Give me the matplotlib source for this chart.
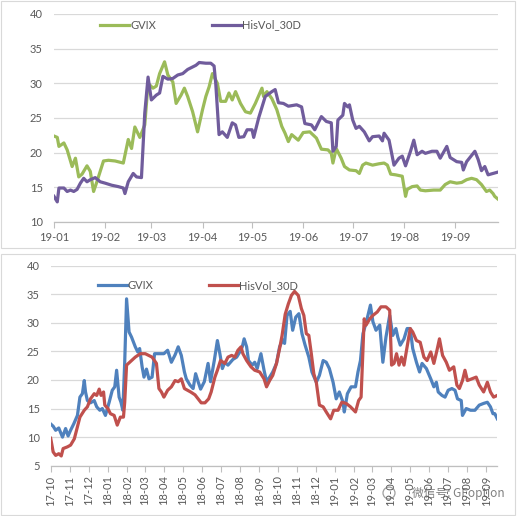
import matplotlib
matplotlib.use("Agg")
import matplotlib.pyplot as plt
import matplotlib.dates as mdates
import pandas as pd
from matplotlib.patches import Rectangle, Circle

plt.rcParams["font.family"] = ["Lato", "Noto Sans CJK SC", "DejaVu Sans"]

# ---- top chart: 2019 YTD (days since 2019-01-01) ----
top_start = "2019-01-01"
top_gvix_day = [0, 2, 3, 6, 8, 11, 13, 15, 17, 20, 22, 24, 26, 30, 33, 37, 42, 45, 47, 49,
                52, 55, 57, 60, 62, 64, 67, 69, 72, 74, 77, 79, 81, 84, 87, 90, 92, 94, 96, 99,
                101, 104, 106, 108, 110, 113, 116, 119, 122, 126, 127, 129, 132, 135, 138, 140,
                142, 144, 148, 151, 155, 159, 162, 166, 168, 169, 171, 174, 176, 179, 183, 185,
                187, 189, 193, 197, 200, 202, 204, 207, 211, 213, 214, 217, 220, 222, 225, 230,
                234, 237, 240, 244, 247, 250, 253, 256, 259, 262, 264, 266, 267, 269]
top_gvix = [22.4, 22.2, 20.9, 21.4, 20.4, 18.0, 19.2, 16.5, 16.9, 18.1, 17.3, 14.4, 15.8, 18.8,
            18.9, 18.8, 18.5, 21.9, 20.6, 23.7, 22.2, 24.0, 30.0, 29.3, 29.6, 31.4, 33.1, 31.2,
            30.2, 27.1, 28.3, 29.3, 28.1, 25.9, 23.0, 26.2, 28.1, 29.5, 31.4, 30.0, 27.4, 27.4,
            28.6, 27.6, 28.8, 27.1, 25.9, 25.7, 27.1, 29.3, 28.1, 28.8, 27.8, 26.2, 23.8, 22.8,
            21.6, 22.6, 21.8, 22.9, 23.0, 22.1, 20.5, 20.4, 19.9, 18.5, 20.6, 19.2, 18.0, 17.5,
            17.4, 17.0, 18.2, 18.5, 18.2, 18.4, 18.5, 18.2, 16.9, 16.8, 16.6, 13.7, 14.7, 15.1,
            15.2, 14.6, 14.5, 14.6, 14.6, 15.4, 15.8, 15.6, 15.7, 16.1, 16.3, 16.1, 15.4, 14.4,
            14.6, 14.1, 13.7, 13.3]
top_hv_day = [0, 2, 3, 6, 8, 10, 12, 14, 16, 18, 20, 22, 25, 28, 31, 35, 39, 42, 43, 45, 48, 50,
              53, 55, 57, 59, 62, 64, 66, 69, 72, 75, 78, 81, 86, 88, 92, 95, 97, 98, 100, 102,
              105, 108, 110, 112, 115, 117, 120, 121, 124, 128, 132, 134, 136, 139, 142, 147,
              150, 152, 156, 158, 162, 165, 168, 169, 171, 172, 175, 176, 178, 179, 181, 183,
              185, 188, 191, 193, 197, 199, 200, 203, 206, 209, 211, 213, 216, 218, 220, 223,
              225, 229, 232, 234, 238, 240, 244, 247, 248, 250, 252, 255, 257, 259, 261, 263,
              266, 269]
top_hv = [13.7, 12.9, 14.9, 14.9, 14.4, 14.6, 14.4, 14.7, 15.6, 16.3, 15.8, 16.1, 16.4, 15.8,
          15.6, 15.3, 15.1, 14.9, 14.1, 15.8, 17.0, 16.5, 16.4, 25.7, 30.9, 27.6, 28.3, 28.6,
          31.0, 30.6, 30.7, 31.2, 31.4, 32.0, 32.6, 33.0, 32.9, 32.9, 32.5, 30.0, 22.6, 23.0,
          22.2, 24.3, 24.0, 22.2, 22.3, 23.3, 23.3, 22.2, 25.0, 28.1, 28.8, 29.1, 27.2, 27.1,
          26.7, 26.9, 26.6, 24.2, 24.0, 23.3, 25.2, 24.5, 24.3, 20.2, 20.9, 24.7, 25.4, 27.1,
          26.6, 26.9, 24.7, 23.5, 23.8, 23.0, 21.7, 22.3, 22.4, 21.7, 22.8, 21.8, 18.2, 19.2,
          19.5, 18.1, 20.2, 21.8, 19.7, 20.2, 19.9, 20.2, 20.2, 19.2, 20.9, 19.3, 18.7, 18.6,
          17.5, 18.7, 19.3, 20.2, 19.0, 17.4, 18.0, 16.8, 17.0, 17.2]

# ---- bottom chart: since Oct 2017 (days since 2017-10-01) ----
bot_start = "2017-10-01"
bot_gvix_day = [0, 4, 8, 13, 19, 24, 28, 32, 37, 43, 47, 51, 54, 56, 59, 64, 70, 74, 79, 83, 88,
                94, 99, 103, 106, 110, 113, 116, 119, 122, 126, 130, 136, 140, 143, 147, 150, 154,
                158, 163, 167, 174, 182, 188, 194, 200, 205, 210, 215, 218, 224, 229, 233, 237,
                241, 247, 253, 257, 263, 268, 272, 276, 280, 285, 289, 293, 299, 304, 308, 311,
                315, 318, 324, 328, 332, 338, 343, 347, 352, 357, 363, 368, 373, 376, 380, 385,
                389, 394, 399, 404, 409, 415, 420, 427, 432, 438, 443, 448, 454, 459, 464, 470,
                472, 477, 483, 490, 494, 498, 502, 506, 510, 514, 518, 523, 529, 534, 539, 545,
                550, 555, 558, 562, 568, 573, 578, 582, 588, 593, 597, 604, 611, 616, 620, 623,
                629, 634, 639, 645, 650, 654, 660, 662, 668, 675, 682, 689, 696, 702, 707, 711,
                714, 718]
bot_gvix = [12.3, 11.9, 11.2, 11.6, 10.0, 11.5, 10.2, 11.2, 12.3, 13.8, 17.0, 17.6, 19.9, 17.9,
            16.4, 16.0, 16.4, 15.3, 14.7, 15.0, 13.8, 16.1, 18.2, 18.8, 21.7, 17.0, 16.1, 14.7,
            23.1, 34.2, 28.4, 27.5, 25.8, 24.9, 25.5, 22.3, 20.5, 21.9, 20.2, 20.5, 24.6, 24.6,
            24.6, 25.2, 23.1, 24.4, 25.8, 24.3, 21.4, 20.2, 19.1, 18.5, 21.1, 19.7, 18.4, 19.7,
            22.9, 19.7, 23.4, 26.9, 24.6, 22.0, 23.1, 22.6, 23.1, 23.6, 24.0, 24.9, 25.8, 27.2,
            25.8, 23.4, 22.6, 23.1, 22.0, 24.6, 21.7, 19.7, 20.5, 21.4, 22.9, 25.8, 27.0, 26.4,
            31.3, 32.0, 28.7, 31.0, 31.6, 28.1, 26.1, 24.0, 21.4, 19.6, 20.8, 23.4, 23.1, 22.0,
            19.6, 16.7, 17.9, 16.1, 14.4, 17.6, 18.8, 18.8, 21.4, 23.4, 28.1, 29.6, 31.3, 33.1,
            30.2, 28.7, 29.6, 23.1, 27.5, 31.3, 27.8, 29.0, 27.5, 26.1, 27.2, 29.0, 29.0, 25.5,
            23.1, 21.4, 22.9, 22.0, 20.2, 18.8, 19.6, 17.9, 17.3, 17.0, 18.2, 18.5, 18.2, 16.7,
            16.4, 13.8, 15.0, 14.7, 14.7, 15.6, 15.9, 16.1, 15.3, 14.1, 14.1, 13.2]
bot_hv_day = [0, 4, 8, 13, 17, 20, 27, 32, 38, 43, 47, 54, 59, 64, 70, 74, 78, 81, 85, 87, 92, 96,
              102, 107, 112, 117, 119, 122, 130, 136, 144, 152, 163, 170, 174, 178, 182, 188,
              194, 200, 205, 210, 215, 220, 225, 232, 237, 242, 248, 254, 258, 264, 268, 273,
              280, 285, 291, 296, 301, 306, 309, 315, 322, 328, 336, 343, 347, 352, 357, 363,
              368, 372, 377, 382, 387, 392, 398, 403, 407, 411, 415, 419, 423, 427, 432, 438,
              443, 450, 455, 462, 468, 475, 482, 490, 495, 499, 504, 507, 513, 518, 525, 531,
              539, 545, 548, 552, 556, 560, 564, 568, 573, 578, 582, 588, 594, 600, 605, 611,
              616, 621, 625, 630, 636, 641, 648, 653, 657, 662, 666, 670, 677, 684, 689, 696,
              702, 707, 712, 718]
bot_hv = [9.8, 7.4, 6.8, 7.1, 6.7, 8.0, 8.3, 8.6, 9.7, 11.8, 13.5, 14.7, 15.3, 16.7, 17.6, 17.3,
          18.4, 17.3, 17.9, 15.6, 15.0, 14.1, 13.8, 12.1, 13.5, 13.5, 16.1, 22.6, 23.4, 24.0,
          24.6, 24.6, 24.0, 22.9, 18.5, 17.9, 17.0, 18.2, 18.8, 19.9, 19.7, 20.2, 18.5, 18.2,
          17.9, 17.4, 16.7, 16.0, 16.0, 16.7, 17.9, 20.5, 21.7, 23.4, 22.9, 24.0, 24.3, 24.0,
          25.2, 25.8, 24.6, 23.4, 22.3, 21.7, 21.4, 20.2, 18.8, 19.9, 20.8, 22.9, 25.5, 27.8,
          31.5, 33.3, 34.8, 35.5, 34.8, 32.5, 31.3, 28.1, 27.8, 24.6, 21.1, 19.6, 15.6, 15.3,
          14.4, 13.2, 14.7, 14.7, 16.1, 15.9, 15.3, 14.4, 16.4, 17.0, 30.7, 29.6, 30.7, 31.3,
          31.9, 32.8, 32.8, 32.2, 22.6, 22.9, 24.6, 22.6, 24.0, 22.6, 25.8, 29.0, 28.4, 26.9,
          26.6, 24.0, 23.4, 24.9, 22.9, 25.2, 27.2, 24.3, 23.1, 21.7, 22.3, 19.1, 18.5, 19.9,
          21.7, 19.9, 20.2, 20.5, 19.1, 17.9, 19.6, 17.9, 17.0, 17.3]

labels = ["GVIX", "HisVol_30D"]
TXT = "#595959"
GRID = "#d9d9d9"


def _dates(start, days):
    return pd.Timestamp(start) + pd.to_timedelta(days, unit="D")


def _style(ax, ylim, yticks, rotate, legend_y):
    ax.set_ylim(*ylim)
    ax.set_yticks(yticks)
    ax.yaxis.grid(True, color=GRID, linewidth=0.9)
    ax.set_axisbelow(True)
    for side in ["left", "right", "top"]:
        ax.spines[side].set_visible(False)
    ax.spines["bottom"].set_color("#bfbfbf")
    ax.spines["bottom"].set_linewidth(0.9)
    ax.xaxis.set_major_locator(mdates.MonthLocator())
    ax.xaxis.set_major_formatter(mdates.DateFormatter("%y-%m"))
    ax.tick_params(axis="x", direction="out", length=4, color="#bfbfbf",
                   labelcolor=TXT, labelsize=8, pad=3, labelrotation=rotate)
    ax.tick_params(axis="y", length=0, labelcolor=TXT, labelsize=8, pad=8)
    ax.legend(loc="center", bbox_to_anchor=(0.33, legend_y), ncol=2, frameon=False,
              fontsize=8, handlelength=2.6, columnspacing=5.0, handletextpad=0.1,
              labelcolor=TXT, borderaxespad=0)


fig = plt.figure(figsize=(5.22, 5.16), dpi=100)

ax1 = fig.add_axes([0.1034, 0.5698, 0.8506, 0.4031])
x = _dates(top_start, top_gvix_day)
ax1.plot(x, top_gvix, color="#9bbb59", lw=2.3, label=labels[0])
xh = _dates(top_start, top_hv_day)
ax1.plot(xh, top_hv, color="#705c9c", lw=2.3, label=labels[1])
ax1.set_xlim(x.min(), x.max())
_style(ax1, (10, 40), range(10, 41, 5), 0, 0.947)

ax2 = fig.add_axes([0.0971, 0.0975, 0.8556, 0.3876])
x = _dates(bot_start, bot_gvix_day)
ax2.plot(x, bot_gvix, color="#4f81bd", lw=2.3, label=labels[0])
xh = _dates(bot_start, bot_hv_day)
ax2.plot(xh, bot_hv, color="#c0504d", lw=2.3, label=labels[1])
ax2.set_xlim(x.min(), x.max())
_style(ax2, (5, 40), range(5, 41, 5), 90, 0.9)

# chart frames
fig.patches.append(Rectangle((0.5 / 522, 1 - 247.5 / 516), 514 / 522, 247 / 516,
                             transform=fig.transFigure, fill=False, ec="#d9d9d9", lw=0.8))
fig.patches.append(Rectangle((0.5 / 522, 1 - 514.5 / 516), 514.5 / 522, 261 / 516,
                             transform=fig.transFigure, fill=False, ec="#d9d9d9", lw=0.8))

# watermark
fig.patches.append(Circle((389 / 522, 1 - 493 / 516), 6 / 522, transform=fig.transFigure,
                          fill=False, ec="#777777", lw=0.9, alpha=0.7))
fig.text(505 / 522, 1 - 493 / 516, "微信号: GFoption", ha="right", va="center",
         fontsize=8.5, color="#555555", alpha=0.75,
         family=["Noto Sans CJK SC", "DejaVu Sans"])

fig.savefig("out.png", dpi=100, facecolor="white")
